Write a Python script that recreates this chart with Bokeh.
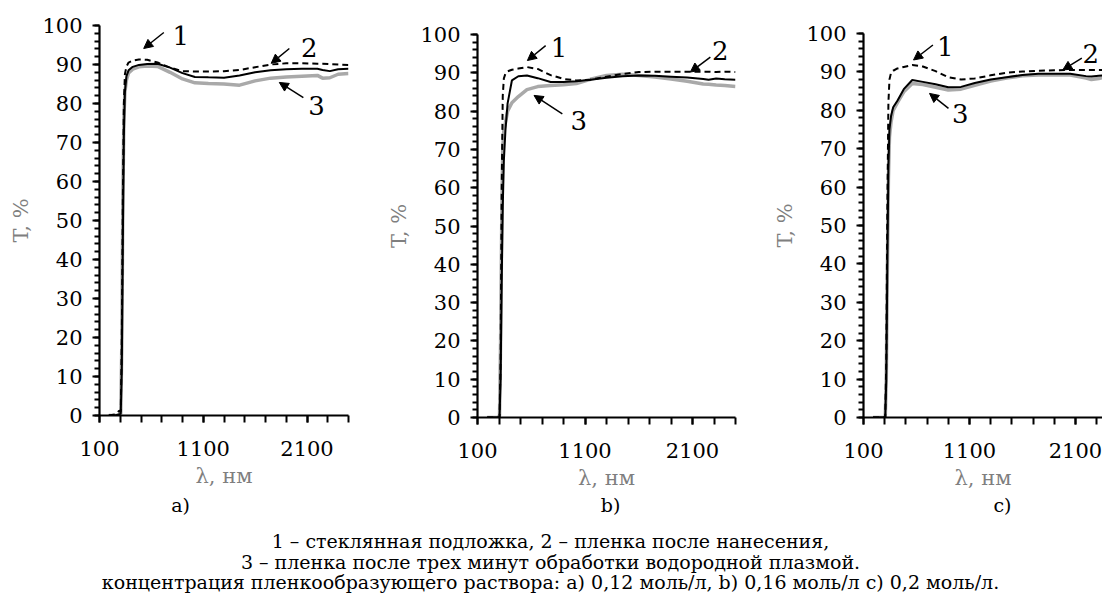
from bokeh.plotting import figure
from bokeh.layouts import column, row
from bokeh.models import FixedTicker, Arrow, NormalHead, ColumnDataSource, Spacer
from bokeh.core.properties import value
from bokeh.embed import file_html
from bokeh.resources import INLINE

FONT = "DejaVu Serif"

# wavelength grid, nm
wl = [190, 250, 290, 305, 315, 325, 335, 345, 360, 380, 420, 480, 560, 660, 780,
      900, 1020, 1150, 1300, 1450, 1600, 1750, 1900, 2050, 2200, 2250, 2320, 2400, 2500]

# panel a) 0.12 mol/l
t1_a = [0, 0.3, 1.2, 1.0, 20, 55, 80, 87.5, 89.5, 90.5, 91.0, 91.3, 91.2, 90.5, 89.2,
        88.3, 88.2, 88.2, 88.3, 88.6, 89.3, 90.0, 90.3, 90.3, 90.2, 90.2, 90.1, 90.0, 89.9]
t2_a = [0, 0, 0.3, 0.5, 12, 45, 72, 83, 87, 88.5, 89.4, 89.9, 90.1, 90.2, 89.2,
        87.8, 86.8, 86.7, 86.6, 87.2, 88.0, 88.5, 88.8, 88.9, 88.9, 88.6, 88.3, 88.8, 88.9]
t3_a = [0, 0, 0, 0.5, 18, 55, 76, 83, 86, 87.8, 88.8, 89.4, 89.6, 89.5, 88.0,
        86.3, 85.3, 85.1, 85.0, 84.7, 85.8, 86.5, 86.8, 87.0, 87.2, 86.5, 86.6, 87.5, 87.7]

# panel b) 0.16 mol/l
t1_b = [0, 0, 0, 0, 15, 60, 84, 88.5, 89.8, 90.4, 90.8, 91.1, 91.5, 91.0, 89.4,
        88.4, 88.0, 88.2, 89.0, 89.7, 90.2, 90.3, 90.3, 90.3, 90.3, 90.3, 90.2, 90.3, 90.2]
t2_b = [0, 0, 0, 0, 10, 35, 55, 67, 75, 82, 88.0, 89.1, 89.3, 88.6, 87.6,
        87.6, 87.8, 88.2, 88.7, 89.1, 89.3, 89.2, 89.0, 88.8, 88.4, 88.2, 88.5, 88.3, 88.2]
t3_b = [0, 0, 0, 0.5, 20, 50, 70, 75, 77, 80, 82.2, 83.8, 85.6, 86.4, 86.7,
        86.9, 87.2, 88.3, 89.3, 89.6, 89.3, 88.9, 88.4, 87.8, 87.1, 87.0, 86.8, 86.7, 86.4]

# panel c) 0.2 mol/l
t1_c = [0, 0, 0, 0, 15, 55, 82, 88, 89.8, 90.3, 90.9, 91.3, 91.8, 91.4, 90.2,
        88.6, 88.0, 88.3, 89.1, 89.8, 90.1, 90.3, 90.4, 90.5, 90.5, 90.5, 90.5, 90.5, 90.5]
t2_c = [0, 0, 0, 0, 10, 40, 65, 75, 78.5, 80.8, 82.5, 85.5, 87.9, 87.4, 86.8,
        86.0, 86.1, 87.1, 88.0, 88.6, 89.2, 89.5, 89.5, 89.5, 88.9, 88.8, 89.0, 89.2, 89.2]
t3_c = [0, 0, 0, 0, 10, 38, 62, 73, 77, 80, 82, 84.8, 87.0, 86.7, 86.0,
        85.3, 85.5, 86.5, 87.6, 88.4, 89.0, 89.2, 89.2, 89.2, 88.4, 88.0, 88.3, 88.8, 88.8]

x_major = [100, 1100, 2100]
x_minor = list(range(100, 2501, 200))
y_major = list(range(0, 101, 10))
y_minor = list(range(0, 101, 2))

# curve labels: (label, text x, text y, arrow x0, y0, x1, y1)
ann_a = [("1", 884, 97.4, 720, 98.2, 526, 94.1),
         ("2", 2123, 94.4, 1930, 94.1, 1755, 90.3),
         ("3", 2191, 79.5, 2065, 81.5, 1833, 85.4)]
ann_b = [("1", 858, 96.7, 734, 97.1, 564, 93.2),
         ("2", 2359, 95.8, 2266, 94.1, 2080, 90.2),
         ("3", 1043, 77.5, 889, 79.3, 626, 84.1)]
ann_c = [("1", 871, 96.6, 755, 97.0, 572, 93.1),
         ("2", 2245, 94.9, 2160, 93.6, 1980, 90.5),
         ("3", 1012, 79.2, 902, 80.5, 723, 84.4)]

panel_letters = ["a)", "b)", "c)"]
caption = ["1 – стеклянная подложка, 2 – пленка после нанесения,",
           "3 – пленка после трех минут обработки водородной плазмой.",
           "концентрация пленкообразующего раствора: а) 0,12 моль/л, b) 0,16 моль/л с) 0,2 моль/л."]

BLOCK = 495  # height of each panel block (spacer + figure)


def make_panel(fw, fh, bl, br, top_space, xend, t1, t2, t3, ann):
    bt = 17
    bb = BLOCK - top_space - bt - fh
    p = figure(frame_width=fw, frame_height=fh, output_backend="svg", toolbar_location=None,
               x_range=(100, xend), y_range=(0, 100),
               min_border_left=bl, min_border_right=br, min_border_top=bt,
               min_border_bottom=bb)
    p.outline_line_color = None
    p.background_fill_color = "white"
    p.border_fill_color = "white"
    p.grid.visible = False
    for ax in (p.xaxis[0], p.yaxis[0]):
        ax.axis_line_width = 2.2
        ax.axis_line_color = "black"
        ax.major_tick_line_width = 2
        ax.minor_tick_line_width = 2
        ax.major_tick_in = 0
        ax.minor_tick_in = 0
        ax.major_label_text_font = FONT
        ax.major_label_text_font_size = "21px"
        ax.major_label_text_color = "black"
        ax.axis_label_text_font = FONT
        ax.axis_label_text_font_size = "21px"
        ax.axis_label_text_color = "#7f7f7f"
        ax.axis_label_text_font_style = "normal"
    p.xaxis.ticker = FixedTicker(ticks=x_major, minor_ticks=x_minor)
    p.yaxis.ticker = FixedTicker(ticks=y_major, minor_ticks=y_minor)
    p.xaxis.major_tick_out = 7
    p.xaxis.minor_tick_out = 7
    p.yaxis.major_tick_out = 7
    p.yaxis.minor_tick_out = 5
    p.xaxis.major_label_standoff = 18
    p.yaxis.major_label_standoff = 10
    p.xaxis.axis_label = "λ, нм"
    p.yaxis.axis_label = "T, %"
    p.xaxis.axis_label_standoff = 5
    p.yaxis.axis_label_standoff = 6

    src = ColumnDataSource(dict(x=wl, t1=t1, t2=t2, t3=t3))
    p.line("x", "t3", source=src, line_color="#a9a9a9", line_width=3.5)
    p.line("x", "t2", source=src, line_color="black", line_width=2)
    p.line("x", "t1", source=src, line_color="black", line_width=2, line_dash="6 4")

    labels = [a[0] for a in ann]
    tx = [a[1] for a in ann]
    ty = [a[2] for a in ann]
    p.text(tx, ty, text=labels, text_font=value(FONT), text_font_size="26px",
           text_align="center", text_baseline="middle", text_color="black")
    for a in ann:
        p.add_layout(Arrow(end=NormalHead(size=9, fill_color="black", line_color="black"),
                           x_start=a[3], y_start=a[4], x_end=a[5], y_end=a[6],
                           line_color="black", line_width=1.5))
    w = bl + fw + br
    return column(Spacer(width=w, height=top_space), p)


pa = make_panel(249, 390, 99, 32, 8, 2500, t1_a, t2_a, t3_a, ann_a)
pb = make_panel(258, 383, 97, 15, 17, 2500, t1_b, t2_b, t3_b, ann_b)
pc = make_panel(239, 384, 113, 0, 16, 2355, t1_c, t2_c, t3_c, ann_c)

CH = 596 - BLOCK
cap = figure(width=1102, height=CH, output_backend="svg", toolbar_location=None,
             x_range=(0, 1102), y_range=(CH, 0), min_border=0,
             x_axis_type=None, y_axis_type=None)
cap.grid.visible = False
cap.outline_line_color = None
cap.text([180, 610, 1002], [9, 9, 9], text=panel_letters, text_font=value(FONT),
         text_font_size="19px", text_align="center", text_baseline="middle", text_color="black")
cap.text([550, 550, 550], [45, 66, 86], text=caption, text_font=value(FONT),
         text_font_size="19px", text_align="center", text_baseline="middle", text_color="black")

layout = column(row(pa, pb, pc), cap)
open("out.html", "w").write(file_html(layout, INLINE))
